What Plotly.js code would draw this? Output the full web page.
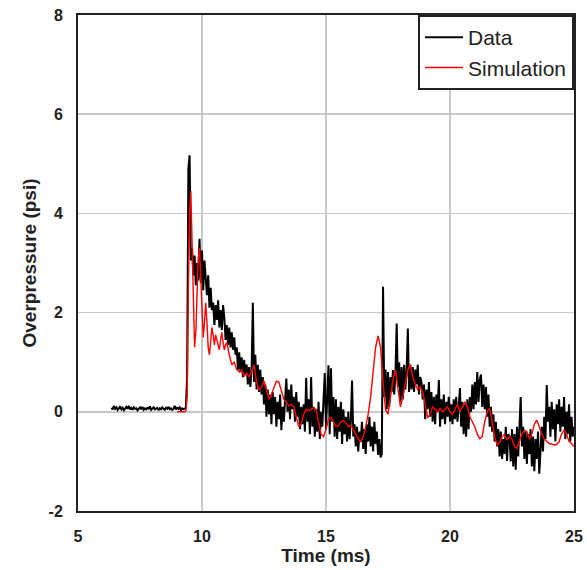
<!DOCTYPE html>
<html>
<head>
<meta charset="utf-8">
<script src="https://cdn.plot.ly/plotly-3.0.1.min.js"></script>
<style>
  html, body { margin: 0; padding: 0; background: #fff; }
  #chart { width: 587px; height: 570px; }
</style>
</head>
<body>
<div id="chart"></div>
<script>
// ---- Measured data (black): sampled every 0.05 ms starting at 6.35 ms ----
var dataStart = 6.35;
var dataStep = 0.05;
var dataValues = [
  // pre-shock 6.35 - 9.35
  0.08,0.05,0.12,0.06,0.09,0.04,0.07,0.11,0.05,0.08,
  0.03,0.07,0.10,0.06,0.12,0.05,0.08,0.04,0.09,0.06,
  0.07,0.03,0.06,0.09,0.05,0.10,0.04,0.07,0.05,0.08,
  0.06,0.11,0.04,0.07,0.09,0.05,0.06,0.08,0.03,0.07,
  0.05,0.09,0.06,0.04,0.08,0.06,0.10,0.05,0.07,0.04,
  0.06,0.12,0.05,0.08,0.06,0.09,0.04,0.07,0.05,0.06,
  0.08,
  // 9.40 onward
  0.70, 4.90, 5.17, 3.05, 3.30, 2.75, 3.15, 2.55, 3.00, 2.65,
  3.49, 2.60, 3.25, 2.45, 3.05, 2.70, 2.35, 2.75, 2.10, 2.50,
  2.05, 2.20, 1.75, 2.15, 1.85, 2.25, 1.70, 2.05, 1.65, 2.15,
  1.90, 1.45, 1.75, 1.35, 1.70, 1.30, 1.60, 1.25, 1.50, 1.15,
  1.30, 0.85, 1.20, 0.80, 1.10, 0.70, 1.05, 0.75, 0.95, 0.55,
  0.90, 0.50, 0.85, 2.20, 0.60, 1.15, 0.45, 0.95, 0.40, 0.85,
  0.35, 0.70, 0.15, 0.55, -0.10, 0.45, -0.05, 0.35, -0.25, 0.40,
  -0.05, 0.30, -0.30, 0.20, -0.15, 0.35, -0.37, 0.10, -0.20, 0.25,
  0.67, 0.00, 0.45, -0.15, 0.55, 0.05, 0.30, -0.20, 0.40, -0.10,
  0.20, -0.35, 0.10, -0.25, 0.15, -0.40, 0.68, -0.20, 0.25, -0.45,
  0.70, -0.30, 0.10, -0.50, 0.05, -0.40, 0.20, -0.55, 0.00, -0.30,
  0.15, 0.78, -0.35, 0.35, 0.94, -0.45, 0.88, -0.20, 0.30, -0.50,
  0.25, -0.55, 0.10, -0.40, 0.20, -0.65, 0.05, -0.45, -0.10, -0.60,
  0.00, -0.55, -0.20, 0.63, -0.50, -0.25, -0.70, -0.30, -0.80, -0.40,
  -0.60, -0.20, -0.75, -0.35, -0.85, -0.25, -0.60, -0.10, -0.70, -0.30,
  -0.80, -0.20, -0.65, -0.40, -0.87, -0.55, -0.92, -0.85, 2.52, 0.30,
  0.85, 0.05, 0.80, 0.10, 0.70, 0.40, 0.84, 0.35, 0.75, 1.78,
  0.50, 1.00, 0.20, 0.90, 0.25, 0.95, 0.45, 0.80, 1.68, 0.40,
  0.95, 0.45, 0.90, 0.40, 0.85, 0.55, 0.95, 0.35, 0.70, 0.60,
  0.25, 0.55, -0.15, 0.45, 0.05, 0.60, -0.10, 0.40, -0.20, 0.30,
  -0.25, 0.35, 0.00, 0.64, -0.30, 0.25, -0.15, 0.35, -0.25, 0.20,
  -0.10, 0.30, -0.20, 0.15, -0.25, 0.25, -0.15, 0.30, -0.20, 0.10,
  0.48, -0.30, 0.20, -0.45, 0.15, -0.50, 0.25, -0.35, 0.30, 0.00,
  0.55, 0.05, 0.60, 0.15, 0.80, 0.20, 0.65, 0.75, 0.10, 0.55,
  0.05, 0.50, -0.10, 0.35, -0.30, 0.10, -0.40, -0.05, -0.60, -0.20,
  -0.70, -0.35, -0.90, -0.40, -0.95, -0.55, -0.85, -0.30, -0.99, -0.45,
  -0.50, -1.00, -0.35, -1.10, -0.45, -1.17, -0.30, -0.90, -0.20, 0.30,
  -0.70, -0.30, -0.95, -0.40, -1.05, -0.45, -0.85, -0.35, -1.10, -0.50,
  -1.20, -0.55, -0.95, -0.40, -1.25, -0.60, -0.30, -0.80, -0.10, -0.55,
  0.54, -0.20, 0.10, -0.50, 0.20, -0.35, 0.05, -0.60, 0.15, -0.25,
  0.25, -0.40, 0.10, -0.30, 0.30, -0.55, 0.00, -0.45, 0.15, -0.60,
  -0.10, -0.50, -0.30
];

// ---- Simulation (red) ----
var simTime = [
  9.00, 9.10, 9.20, 9.30, 9.35, 9.40, 9.45, 9.50, 9.55, 9.60,
  9.65, 9.70, 9.75, 9.80, 9.85, 9.90, 9.95, 10.00, 10.05, 10.10,
  10.15, 10.20, 10.25, 10.30, 10.35, 10.40, 10.45, 10.50, 10.55, 10.60,
  10.65, 10.70, 10.75, 10.80, 10.85, 10.90, 10.95, 11.00, 11.10, 11.20,
  11.30, 11.40, 11.50, 11.60, 11.70, 11.80, 11.90, 12.00, 12.10, 12.20,
  12.30, 12.40, 12.50, 12.60, 12.70, 12.80, 12.90, 13.00, 13.10, 13.20,
  13.30, 13.40, 13.50, 13.60, 13.70, 13.80, 13.90, 14.00, 14.10, 14.20,
  14.30, 14.40, 14.50, 14.60, 14.70, 14.80, 14.90, 15.00, 15.10, 15.20,
  15.30, 15.40, 15.50, 15.60, 15.70, 15.80, 15.90, 16.00, 16.10, 16.20,
  16.30, 16.40, 16.50, 16.60, 16.70, 16.80, 16.90, 17.00, 17.10, 17.20,
  17.30, 17.40, 17.50, 17.60, 17.70, 17.80, 17.90, 18.00, 18.10, 18.20,
  18.30, 18.40, 18.50, 18.60, 18.70, 18.80, 18.90, 19.00, 19.10, 19.20,
  19.30, 19.40, 19.50, 19.60, 19.70, 19.80, 19.90, 20.00, 20.10, 20.20,
  20.30, 20.40, 20.50, 20.60, 20.70, 20.80, 20.90, 21.00, 21.10, 21.20,
  21.30, 21.40, 21.50, 21.60, 21.70, 21.80, 21.90, 22.00, 22.10, 22.20,
  22.30, 22.40, 22.50, 22.60, 22.70, 22.80, 22.90, 23.00, 23.10, 23.20,
  23.30, 23.40, 23.50, 23.60, 23.70, 23.80, 23.90, 24.00, 24.10, 24.20,
  24.30, 24.40, 24.50, 24.60, 24.70, 24.80, 24.90, 25.00
];
var simValues = [
  0.00, 0.00, 0.00, 0.00, 0.02, 0.30, 2.50, 4.00, 4.45, 3.20,
  1.80, 1.30, 1.60, 2.50, 3.10, 3.30, 2.60, 1.90, 1.50, 1.80,
  2.20, 1.80, 1.30, 1.15, 1.40, 1.70, 1.55, 1.35, 1.55, 1.45,
  1.30, 1.25, 1.45, 1.60, 1.40, 1.25, 1.35, 1.40, 1.15, 0.95,
  1.00, 0.85, 0.80, 0.85, 0.72, 0.78, 0.70, 0.82, 0.94, 0.60,
  0.44, 0.50, 0.62, 0.45, 0.25, 0.35, 0.50, 0.62, 0.60, 0.40,
  0.25, 0.20, 0.12, 0.15, 0.10, -0.10, -0.30, -0.25, -0.05, 0.05,
  0.02, 0.05, 0.08, 0.05, -0.20, -0.45, -0.50, -0.35, -0.15, -0.12,
  -0.20, -0.30, -0.28, -0.20, -0.18, -0.22, -0.30, -0.28, -0.35, -0.45,
  -0.55, -0.60, -0.50, -0.30, -0.05, 0.30, 0.80, 1.30, 1.53, 1.30,
  0.60, 0.05, -0.05, 0.30, 0.65, 0.85, 0.50, 0.10, 0.30, 0.60,
  0.85, 0.95, 0.70, 0.55, 0.45, 0.50, 0.40, 0.15, -0.12, -0.05,
  0.10, 0.05, 0.00, 0.07, 0.00, 0.05, 0.10, 0.00, -0.05, 0.05,
  0.15, 0.00, 0.10, 0.20, 0.10, -0.10, -0.20, -0.30, -0.45, -0.54,
  -0.50, -0.20, 0.00, 0.07, -0.20, -0.50, -0.67, -0.62, -0.50, -0.45,
  -0.57, -0.50, -0.55, -0.70, -0.74, -0.60, -0.45, -0.37, -0.40, -0.55,
  -0.45, -0.25, -0.17, -0.30, -0.45, -0.55, -0.60, -0.64, -0.65, -0.67,
  -0.66, -0.60, -0.45, -0.37, -0.45, -0.60, -0.64, -0.70
];

// axis ticks
var xTicks = [5, 10, 15, 20, 25];
var yTicks = [-2, 0, 2, 4, 6, 8];

var dataTime = dataValues.map(function (v, i) {
  return +(dataStart + i * dataStep).toFixed(2);
});

var fam = '"Liberation Sans", Arial, sans-serif';

var traces = [
  {
    x: dataTime, y: dataValues, name: 'Data', type: 'scatter', mode: 'lines',
    line: { color: '#000000', width: 2 }
  },
  {
    x: simTime, y: simValues, name: 'Simulation', type: 'scatter', mode: 'lines',
    line: { color: '#ff0000', width: 1.4 }
  }
];

var axisCommon = {
  showgrid: true, gridcolor: '#c8c8c8', gridwidth: 1.5,
  showline: true, linecolor: '#222222', linewidth: 2, mirror: true,
  ticks: '', zeroline: false,
  tickfont: { family: fam, size: 16, color: '#222222', weight: 'bold' }
};

var layout = {
  width: 587, height: 570,
  margin: { l: 78, r: 13, t: 15, b: 59, pad: 0 },
  paper_bgcolor: '#ffffff', plot_bgcolor: '#ffffff',
  showlegend: true,
  legend: {
    x: 1, xanchor: 'right', y: 1, yanchor: 'top',
    bgcolor: '#ffffff', bordercolor: '#222222', borderwidth: 2,
    font: { family: fam, size: 21, color: '#222222' },
    itemwidth: 38,
    tracegroupgap: 0
  },
  xaxis: Object.assign({}, axisCommon, {
    range: [5, 25], tickvals: xTicks, ticktext: xTicks.map(String),
    ticklabelstandoff: 10,
    title: { text: 'Time (ms)', font: { family: fam, size: 19, color: '#222222', weight: 'bold' }, standoff: 0 }
  }),
  yaxis: Object.assign({}, axisCommon, {
    range: [-2, 8], tickvals: yTicks, ticktext: yTicks.map(String),
    ticklabelstandoff: 10,
    title: { text: 'Overpressure (psi)', font: { family: fam, size: 19, color: '#222222', weight: 'bold' }, standoff: 7 }
  })
};

Plotly.newPlot('chart', traces, layout, { displayModeBar: false, staticPlot: true });
</script>
</body>
</html>
